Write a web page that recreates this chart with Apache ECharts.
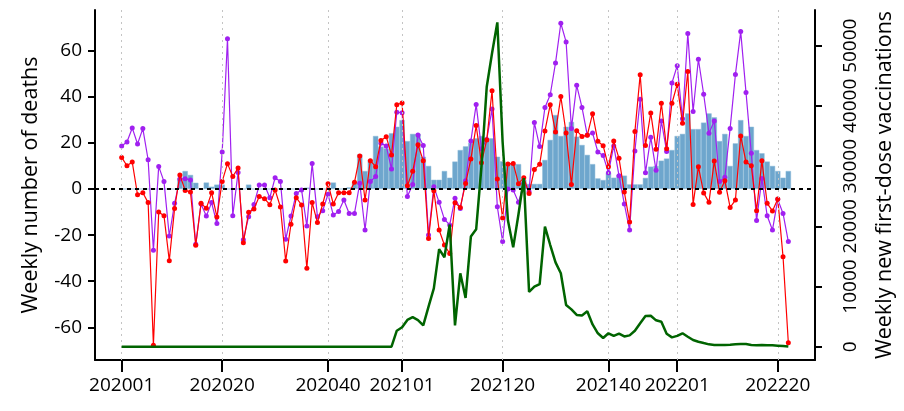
<!DOCTYPE html>
<html>
<head>
<meta charset="utf-8">
<script src="https://cdn.jsdelivr.net/npm/echarts@6/dist/echarts.min.js"></script>
<style>
html,body{margin:0;padding:0;background:#fff;}
#chart{width:904px;height:411px;}
</style>
</head>
<body>
<div id="chart"></div>
<script>
// ---- categories: ISO year-week labels ----
const weeks = [];
[[2020, 53], [2021, 52], [2022, 22]].forEach(function (yw) {
  for (let w = 1; w <= yw[1]; w++) weeks.push(String(yw[0]) + (w < 10 ? '0' + w : String(w)));
});

// ---- tick labels ----
const xTickLabels = ['202001', '202020', '202040', '202101', '202120', '202140', '202201', '202220'];
const leftTicks = [-60, -40, -20, 0, 20, 40, 60];
const rightTicks = [0, 10000, 20000, 30000, 40000, 50000];

// ---- series values (one per week) ----
const deathsRed = [
  13.7, 10.1, 11.7, -2.5, -1.6, -5.9, -67.8, -10.0, -11.6, -31.1,
  -8.5, 6.1, -0.6, -1.3, -24.4, -6.2, -8.4, -1.6, -12.1, 3.3,
  11.0, 5.4, 9.1, -23.3, -10.1, -8.7, -3.3, -4.2, -6.8, -0.4,
  -7.8, -31.2, -15.3, -3.8, -6.9, -34.4, -5.9, -14.5, -6.5, 2.3,
  -6.5, -1.6, -1.6, -1.6, 2.9, 14.3, -4.8, 12.3, 9.7, 21.0,
  22.7, 14.8, 36.6, 37.3, 1.4, 7.7, 19.2, 12.3, -21.5, -0.8,
  -17.8, -24.3, -28.0, -6.0, -8.0, 2.4, 13.0, 27.5, 11.4, 21.3,
  42.6, 4.3, -12.6, 10.8, 11.1, 2.3, 4.9, -1.9, 8.5, 10.7,
  25.2, 36.6, 24.7, 40.1, 24.3, 1.9, 25.3, 22.8, 23.3, 32.7,
  20.7, 18.8, 9.7, 20.8, 13.3, -1.3, -14.3, 24.9, 49.6, 18.9,
  33.0, 17.2, 37.2, 17.5, 37.2, 45.4, 28.5, 51.0, -6.7, 9.7,
  -1.7, -5.8, 12.1, -1.4, 3.6, -8.0, -4.8, 23.0, 11.7, 10.1,
  -9.4, 12.3, -6.2, -9.5, -4.3, -29.4, -66.7
];
const deathsPurple = [
  18.7, 20.4, 26.5, 19.5, 26.2, 12.7, -26.6, 9.8, 3.2, -20.4,
  -6.2, 4.3, 4.5, 3.9, -24.0, -6.5, -11.7, -5.9, -15.0, 16.1,
  65.2, -11.6, 7.2, -22.0, -12.0, -6.7, 1.7, 1.7, -3.8, 4.9,
  3.3, -21.8, -11.7, -1.9, -0.4, -16.1, 11.1, -12.0, -9.4, -2.3,
  -11.3, -9.8, -4.8, -10.6, -10.6, 2.5, -17.8, 3.2, 5.4, 19.8,
  18.7, 8.7, 33.3, 33.1, -3.3, 1.9, 23.4, 18.9, -20.0, 1.0,
  -5.8, -13.2, -15.6, -4.0, -8.5, 3.6, 20.8, 36.7, 17.5, 21.5,
  34.7, -7.7, -22.8, 0.0, -0.4, -5.8, 2.5, -1.2, 28.8, 18.4,
  35.4, 40.9, 54.7, 71.9, 63.8, 26.3, 45.0, 35.4, 23.4, 24.3,
  16.1, 14.5, 7.1, 18.7, 5.8, -6.5, -17.8, 16.5, 38.9, 7.1,
  22.4, 8.1, 29.5, 16.3, 46.0, 53.5, 30.5, 67.5, 33.6, 56.3,
  41.1, 24.2, 29.5, 3.2, 5.1, 26.3, 49.7, 68.3, 41.9, 15.5,
  -13.7, 4.6, -11.6, -17.8, -4.5, -10.6, -22.8
];
const barValues = [
  0, 0, 0, 0, 0, 0, 0, 0, 0, 0,
  0, 4.6, 7.8, 6.1, 2.7, 0, 2.8, 1.0, 1.9, 1.9,
  0, 0, 0, 0, 1.9, 0, 0, 0, 0, 0,
  0, 0, 0, 0, 0, 0.6, 0, 0, 0, 0,
  2.8, 0, 0, 0.7, 2.5, 15.0, 7.8, 12.6, 23.0, 18.4,
  17.6, 24.2, 27.0, 29.9, 20.8, 23.9, 23.9, 14.0, 10.0, 4.0,
  4.0, 7.8, 4.9, 11.9, 16.9, 18.5, 20.0, 22.0, 23.0, 22.0,
  22.0, 14.0, 12.0, 11.0, 10.8, 10.8, 4.0, 2.2, 2.2, 2.2,
  12.6, 21.3, 32.1, 23.0, 27.0, 29.1, 22.7, 19.1, 14.8, 10.8,
  4.6, 3.9, 7.1, 4.9, 6.1, 5.8, 2.0, 2.0, 2.0, 4.8,
  9.7, 10.0, 12.3, 13.2, 16.9, 23.0, 23.9, 32.8, 26.0, 26.0,
  28.8, 32.8, 31.1, 20.8, 23.9, 10.0, 19.8, 29.9, 23.0, 27.0,
  16.9, 15.5, 11.9, 10.0, 7.8, 4.9, 7.8
];
const vaccinations = [
  0, 0, 0, 0, 0, 0, 0, 0, 0, 0,
  0, 0, 0, 0, 0, 0, 0, 0, 0, 0,
  0, 0, 0, 0, 0, 0, 0, 0, 0, 0,
  0, 0, 0, 0, 0, 0, 0, 0, 0, 0,
  0, 0, 0, 0, 0, 0, 0, 0, 0, 0,
  0, 0, 2660, 3220, 4450, 4900, 4430, 3550, 6650, 9700,
  16200, 14850, 20300, 3550, 12190, 8100, 18300, 19500, 29900, 43190,
  48740, 53880, 34000, 21000, 16500, 22000, 28000, 9100, 9970, 10410,
  19930, 16890, 14000, 12190, 6930, 6200, 5270, 5200, 5880, 3700,
  2230, 1450, 2230, 1800, 2170, 1700, 1880, 2640, 3900, 5100,
  5150, 4380, 4150, 2140, 1550, 1800, 2230, 1660, 1110, 830,
  600, 390, 300, 280, 280, 330, 390, 440, 440, 280,
  220, 280, 250, 220, 170, 110, 30
];

const xTickIdx = xTickLabels.map(function (l) { return weeks.indexOf(l); });
const pairs = function (arr) { return arr.map(function (v, i) { return [i, v]; }); };

const FONT = 'Open Sans';
const chart = echarts.init(document.getElementById('chart'), null, { renderer: 'canvas' });
const n = weeks.length - 1;
const pad = n * 0.04;

chart.setOption({
  animation: false,
  backgroundColor: '#fff',
  textStyle: { fontFamily: FONT, color: '#000' },
  grid: { left: 95, right: 87.3, top: 10, bottom: 51, containLabel: false },
  xAxis: {
    type: 'value', min: -pad, max: n + pad,
    axisLine: { show: true, onZero: false, lineStyle: { color: '#000', width: 2 } },
    axisTick: { show: true, customValues: xTickIdx, length: 12, lineStyle: { color: '#000', width: 2 } },
    axisLabel: { customValues: xTickIdx, formatter: function (v) { return weeks[Math.round(v)]; },
      fontSize: 19, fontFamily: FONT, color: '#000', margin: 16 },
    splitLine: { show: false }
  },
  yAxis: [{
    type: 'value', position: 'left', min: -74.19, max: 77.66,
    axisLine: { show: true, onZero: false, lineStyle: { color: '#000', width: 2 } },
    axisTick: { show: true, customValues: leftTicks, length: 7, lineStyle: { color: '#000', width: 2 } },
    axisLabel: { customValues: leftTicks, fontSize: 19, fontFamily: FONT, color: '#000', margin: 13,
      formatter: function (v) { return String(v); } },
    splitLine: { show: false },
    name: 'Weekly number of deaths', nameLocation: 'middle', nameGap: 53, nameRotate: 90,
    nameTextStyle: { fontSize: 21.5, fontFamily: FONT, color: '#000' }
  }, {
    type: 'value', position: 'right', min: -2210, max: 55930,
    axisLine: { show: true, onZero: false, lineStyle: { color: '#000', width: 2 } },
    axisTick: { show: true, customValues: rightTicks, length: 7, lineStyle: { color: '#000', width: 2 } },
    axisLabel: { customValues: rightTicks, rotate: 90, fontSize: 19, fontFamily: FONT, color: '#000', margin: 26,
      formatter: function (v) { return String(v); } },
    splitLine: { show: false },
    name: 'Weekly new first-dose vaccinations', nameLocation: 'middle', nameGap: 59, nameRotate: 90,
    nameTextStyle: { fontSize: 21.5, fontFamily: FONT, color: '#000' }
  }],
  series: [{
    type: 'bar', yAxisIndex: 0, data: pairs(barValues), barWidth: 5.3, barGap: '-100%',
    itemStyle: { color: '#6ea6cd', borderColor: '#8cbad9', borderWidth: 0.5 },
    silent: true, z: 1,
    markLine: {
      silent: true, symbol: 'none', label: { show: false },
      data: xTickIdx.map(function (t) { return { xAxis: t, lineStyle: { color: '#c4c4c4', type: [2, 4], width: 1 } }; })
        .concat([{ yAxis: 0, lineStyle: { color: '#000', type: [4, 4], width: 2 } }])
    }
  }, {
    type: 'line', yAxisIndex: 0, data: pairs(deathsPurple), z: 3,
    symbol: 'circle', symbolSize: 5, showSymbol: true,
    lineStyle: { color: '#a020f0', width: 1.2 }, itemStyle: { color: '#a020f0' }
  }, {
    type: 'line', yAxisIndex: 0, data: pairs(deathsRed), z: 4,
    symbol: 'circle', symbolSize: 5, showSymbol: true,
    lineStyle: { color: '#ff0000', width: 1.2 }, itemStyle: { color: '#ff0000' }
  }, {
    type: 'line', yAxisIndex: 1, data: pairs(vaccinations), z: 5,
    symbol: 'none', lineStyle: { color: '#006400', width: 2.5 }
  }]
});
</script>
</body>
</html>
